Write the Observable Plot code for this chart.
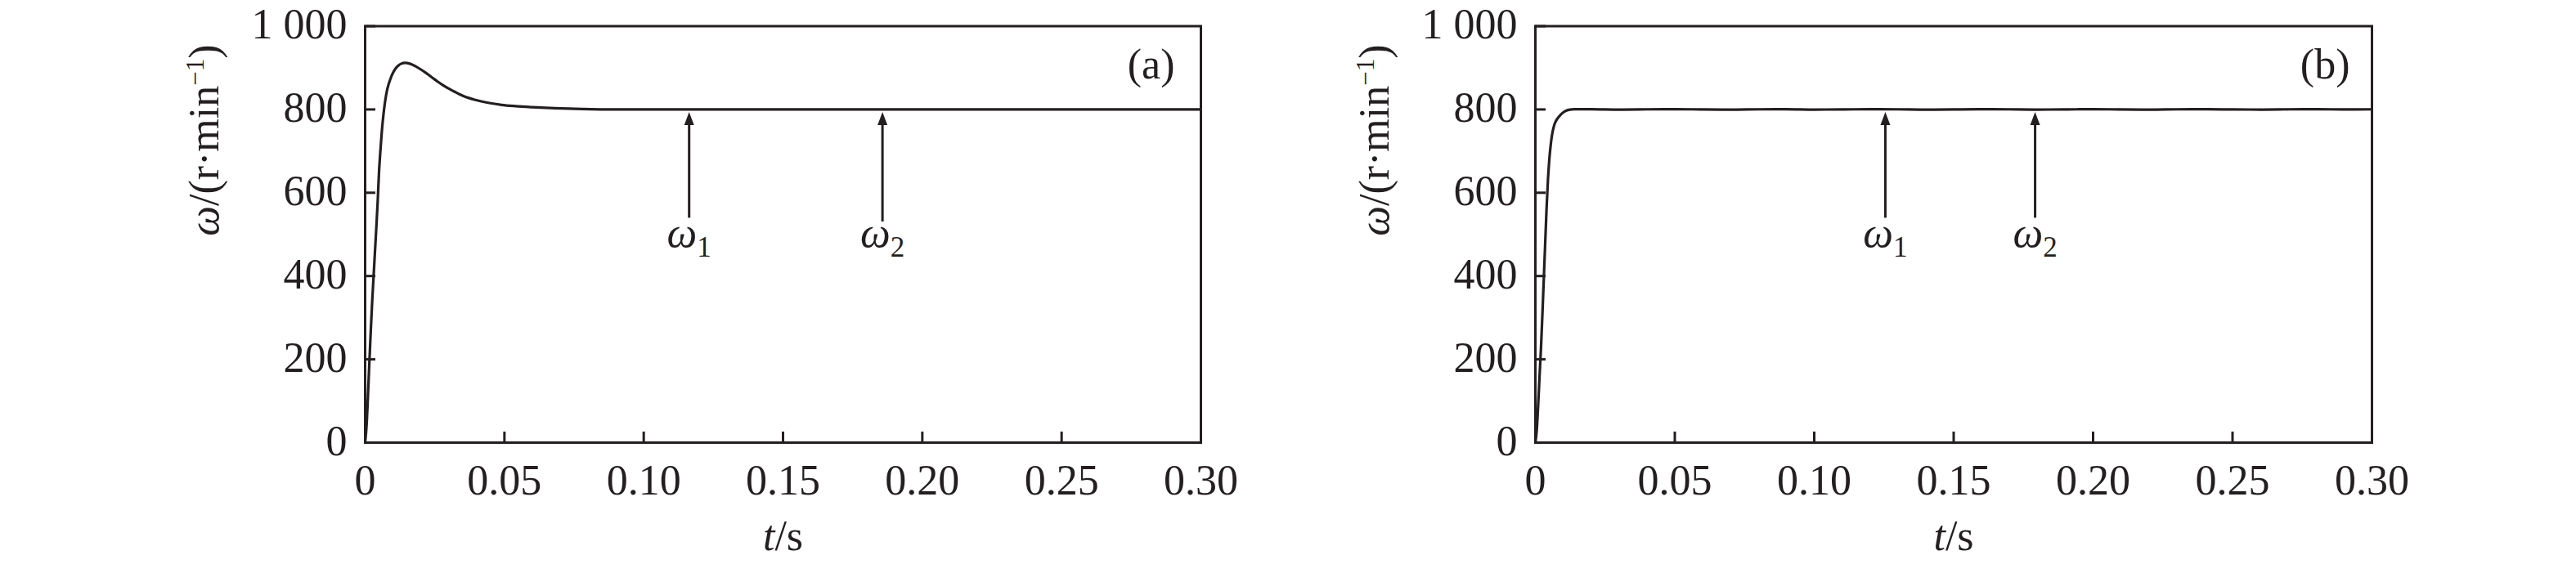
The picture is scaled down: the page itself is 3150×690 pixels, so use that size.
<!DOCTYPE html>
<html><head><meta charset="utf-8">
<script src="https://cdn.jsdelivr.net/npm/d3@7"></script>
<script src="https://cdn.jsdelivr.net/npm/@observablehq/plot@0.6"></script>
<style>
html,body{margin:0;padding:0;background:#fff;}
#wrap{display:flex;width:3150px;height:690px;}
#wrap svg{flex:none;max-width:none;}
</style></head><body><div id="wrap"></div>
<script>
// ---- data ----
const tA = [0, 0.0005, 0.001, 0.0015, 0.002, 0.0025, 0.003, 0.0035, 0.004, 0.0045, 0.005, 0.0055, 0.006, 0.0065, 0.007, 0.0075, 0.008, 0.009, 0.010, 0.011, 0.012, 0.013, 0.0143, 0.016, 0.018, 0.020, 0.022, 0.024, 0.026, 0.028, 0.030, 0.032, 0.034, 0.036, 0.039, 0.042, 0.045, 0.049, 0.054, 0.060, 0.068, 0.078, 0.090, 0.10, 0.12, 0.15, 0.18, 0.21, 0.24, 0.27, 0.30];
const wA = [0, 40, 110, 190, 265, 335, 395, 455, 515, 578, 652, 703, 748, 783, 811, 833, 850, 872, 888, 899, 906, 910, 912, 910, 904, 896, 887, 877, 867, 858, 850, 843, 836, 830, 824, 819, 815, 811, 808, 805.5, 803, 801, 800, 800, 800, 800, 800, 800, 800, 800, 800];
const tB = [0, 0.0005, 0.001, 0.0015, 0.002, 0.0025, 0.003, 0.0035, 0.004, 0.0045, 0.005, 0.0055, 0.006, 0.0065, 0.007, 0.008, 0.009, 0.010, 0.011, 0.012, 0.013, 0.014, 0.02, 0.03, 0.04, 0.05, 0.06, 0.07, 0.08, 0.09, 0.10, 0.11, 0.12, 0.13, 0.14, 0.15, 0.16, 0.17, 0.18, 0.19, 0.20, 0.21, 0.22, 0.23, 0.24, 0.25, 0.26, 0.27, 0.28, 0.29, 0.30];
const wB = [0, 30, 90, 160, 225, 305, 390, 475, 560, 630, 680, 715, 740, 756, 767, 779, 787, 793, 797, 799, 800, 800.4, 800.6, 799.7, 800.3, 800.7, 800, 799.6, 800.3, 800.6, 799.7, 800, 800.7, 800.3, 799.6, 800, 800.6, 800.3, 799.7, 800, 800.7, 800, 799.6, 800.3, 800.6, 800, 799.7, 800.3, 800.6, 800, 800.3];
const xTicks = [0, 0.05, 0.10, 0.15, 0.20, 0.25, 0.30];
const xTickLabels = ["0", "0.05", "0.10", "0.15", "0.20", "0.25", "0.30"];
const yTicks = [0, 200, 400, 600, 800, 1000];
const yTickLabels = ["0", "200", "400", "600", "800", "1 000"];
const panelTags = ["(a)", "(b)"];
const arrowTimesA = [0.1163, 0.1857];
const arrowTimesB = [0.1255, 0.1792];
const arrowTailA = [539, 530];
const arrowTailB = [539, 539];
const arrowTip = 794;
const arrowShaftTop = 782;
const arrowLabelLevel = 470;
const arrowSubs = ["1", "2"];
const xTitle = "t/s";
const yTitle = "ω/(r·min−1)";

// ---- drawing ----
const INK = "#231f20";
const FONT = "'Liberation Serif','Times New Roman',serif";
const H = 690, MT = 31.5, MB = 149, W = 1575;

const head = {draw(ctx) { ctx.moveTo(0, 0); ctx.lineTo(6, 16); ctx.lineTo(-6, 16); ctx.closePath(); }};

function panel({t, w, tag, arrowT, arrowTail, ml, mr, tagDx}) {
  const innerW = W - ml - mr, innerH = H - MT - MB;
  const series = t.map((d, i) => ({t: d, w: w[i]}));
  const arrows = arrowT.map((d, i) => ({t: d, tail: arrowTail[i], sub: arrowSubs[i]}));
  const svg = Plot.plot({
    width: W, height: H, marginLeft: ml, marginRight: mr, marginTop: MT, marginBottom: MB,
    style: `font-family: ${FONT}; font-size: 52px; color: ${INK}; background: #fff; overflow: visible;`,
    x: {domain: [0, 0.3]},
    y: {domain: [0, 1000]},
    marks: [
      Plot.line(series, {x: "t", y: "w", stroke: INK, strokeWidth: 3.2, curve: "monotone-x"}),
      Plot.tickY(yTicks, {y: d => d, stroke: INK, strokeWidth: 3, insetRight: innerW - 13}),
      Plot.tickX(xTicks, {x: d => d, stroke: INK, strokeWidth: 3, insetTop: innerH - 13}),
      Plot.ruleX(arrows, {x: "t", y1: "tail", y2: arrowShaftTop, stroke: INK, strokeWidth: 3}),
      Plot.dot(arrows, {x: "t", y: arrowTip, symbol: head, r: 6, fill: INK, stroke: "none"}),
      Plot.text(arrows, {x: "t", y: arrowLabelLevel, text: d => "ω_" + d.sub, lineAnchor: "bottom", fontSize: 52, fill: INK}),
      Plot.frame({stroke: INK, strokeWidth: 3}),
      Plot.axisX(xTicks, {tickFormat: d => xTickLabels[xTicks.indexOf(d)], tickSize: 0, tickPadding: 27, fontSize: 52, label: null}),
      Plot.axisY(yTicks, {tickFormat: d => yTickLabels[yTicks.indexOf(d)], tickSize: 0, tickPadding: 22, fontSize: 52, dy: -1.5, label: null}),
      Plot.text([tag], {frameAnchor: "top-right", dx: tagDx, dy: 63.5, lineAnchor: "bottom", textAnchor: "end", fontSize: 52, fill: INK}),
      Plot.text([xTitle], {frameAnchor: "bottom", dy: 131.7, lineAnchor: "bottom", fontSize: 52, fill: INK}),
      Plot.text([yTitle], {frameAnchor: "left", rotate: -90, dx: -180, dy: 2, lineAnchor: "bottom", fontSize: 52, fill: INK})
    ]
  });
  svg.querySelectorAll("text").forEach(el => {
    const s = el.textContent;
    const m = s.match(/^ω_(\d)$/);
    if (m) {
      el.innerHTML = `<tspan font-style="italic">ω</tspan><tspan font-size="35" dy="11.6">${m[1]}</tspan>`;
    } else if (s === xTitle) {
      el.innerHTML = `<tspan font-style="italic">t</tspan>/s`;
    } else if (s === yTitle) {
      el.innerHTML = `<tspan font-style="italic">ω</tspan>/(r·min<tspan font-size="31" dy="-18">−1</tspan><tspan dy="18">)</tspan>`;
    }
  });
  return svg;
}

const wrap = document.getElementById("wrap");
wrap.appendChild(panel({t: tA, w: wA, tag: panelTags[0], arrowT: arrowTimesA, arrowTail: arrowTailA, ml: 446, mr: 107, tagDx: -32}));
wrap.appendChild(panel({t: tB, w: wB, tag: panelTags[1], arrowT: arrowTimesB, arrowTail: arrowTailB, ml: 302, mr: 250, tagDx: -27}));
</script></body></html>
